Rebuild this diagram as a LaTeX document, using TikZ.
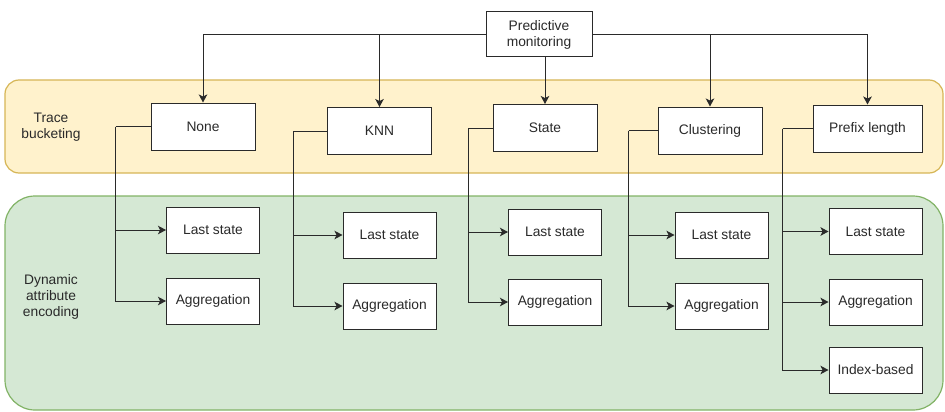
\documentclass[tikz,border=0pt]{standalone}
\usepackage{fontspec}
\setmainfont{Liberation Sans}
\usetikzlibrary{arrows.meta}
\definecolor{ybg}{HTML}{FFF2CC}
\definecolor{ybd}{HTML}{D6B656}
\definecolor{gbg}{HTML}{D5E8D4}
\definecolor{gbd}{HTML}{82B366}
\definecolor{ink}{HTML}{2A2A2A}
\begin{document}
\begin{tikzpicture}[x=1pt,y=-1pt,
  every node/.style={font=\fontsize{13.8}{16}\selectfont, text=ink},
  box/.style={draw=ink, line width=1pt, fill=white, inner sep=0pt, align=center},
  bbox/.style={box, minimum width=104pt, minimum height=47pt},
  lbox/.style={box, minimum width=93pt, minimum height=46pt},
  lbl/.style={align=center},
  conn/.style={draw=ink, line width=1pt},
  arr/.style={conn, -{Stealth[length=8pt,width=8.5pt,inset=2pt]}}]
\useasboundingbox (0,0) rectangle (945,412);
% bands
\draw[fill=ybg, draw=ybd, line width=1.2pt, rounded corners=14pt] (5,80) rectangle (943,173);
\draw[fill=gbg, draw=gbd, line width=1.2pt, rounded corners=30pt] (5,196) rectangle (943,410);
\node[lbl] (tb) at (51,127) {Trace\\bucketing};
\node[lbl] (dae) at (51,297) {Dynamic\\attribute\\encoding};
% top
\node[box, minimum width=106pt, minimum height=45pt] (pm) at (539,34.5) {Predictive\\monitoring};
\node[bbox] (none) at (203,126.5) {None};
\node[bbox] (knn) at (379.5,131) {KNN};
\node[bbox] (state) at (545,128) {State};
\node[bbox] (clu) at (710,130.5) {Clustering};
\node[bbox, minimum width=109pt] (pre) at (867.5,128.5) {Prefix length};
% lower
\node[lbox] (ls1) at (213,230) {Last state};
\node[lbox] (ag1) at (213,301) {Aggregation};
\node[lbox] (ls2) at (389.5,235) {Last state};
\node[lbox] (ag2) at (389.5,306) {Aggregation};
\node[lbox] (ls3) at (555,232) {Last state};
\node[lbox] (ag3) at (555,302) {Aggregation};
\node[lbox] (ls4) at (721.5,235) {Last state};
\node[lbox] (ag4) at (721.5,306) {Aggregation};
\node[lbox] (ls5) at (875.5,231.5) {Last state};
\node[lbox] (ag5) at (875.5,302) {Aggregation};
\node[lbox] (ib5) at (875.5,370) {Index-based};
% top connectors
\draw[arr] (pm.west) -| (none.north);
\draw[arr] (pm.west) -| (knn.north);
\draw[arr] (pm.south -| state.north) -- (state.north);
\draw[arr] (pm.east) -| (clu.north);
\draw[arr] (pm.east) -| (pre.north);
% branches
\draw[conn] (none.west) -- ++(-35,0) coordinate (t1);
\draw[arr] (t1) |- (ls1.west);
\draw[arr] (t1) |- (ag1.west);
\draw[conn] (knn.west) -- ++(-34,0) coordinate (t2);
\draw[arr] (t2) |- (ls2.west);
\draw[arr] (t2) |- (ag2.west);
\draw[conn] (state.west) -- ++(-24,0) coordinate (t3);
\draw[arr] (t3) |- (ls3.west);
\draw[arr] (t3) |- (ag3.west);
\draw[conn] (clu.west) -- ++(-29,0) coordinate (t4);
\draw[arr] (t4) |- (ls4.west);
\draw[arr] (t4) |- (ag4.west);
\draw[conn] (pre.west) -- ++(-30,0) coordinate (t5);
\draw[arr] (t5) |- (ls5.west);
\draw[arr] (t5) |- (ag5.west);
\draw[arr] (t5) |- (ib5.west);
\end{tikzpicture}
\end{document}
